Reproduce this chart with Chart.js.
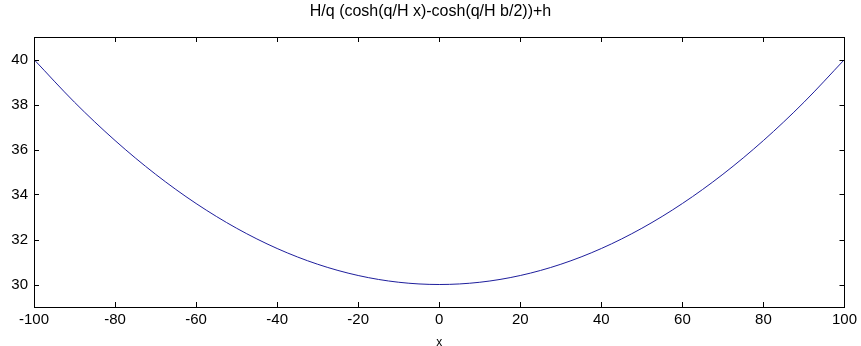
<!DOCTYPE html>
<html>
<head>
<meta charset="utf-8">
<script src="https://cdn.jsdelivr.net/npm/chart.js@4"></script>
<style>
  html, body { margin: 0; padding: 0; background: #fff; }
  #catenary { display: block; }
</style>
</head>
<body>
<canvas id="catenary" width="861" height="346"></canvas>
<script>
// values
const xValues = [-100, -90, -80, -70, -60, -50, -40, -30, -20, -10, 0, 10, 20, 30, 40, 50, 60, 70, 80, 90, 100];
const yValues = [40.0, 38.1, 36.4, 34.9, 33.6, 32.5, 31.6, 30.9, 30.4, 30.1, 30.0, 30.1, 30.4, 30.9, 31.6, 32.5, 33.6, 34.9, 36.4, 38.1, 40.0];
const xTicks = [-100, -80, -60, -40, -20, 0, 20, 40, 60, 80, 100];
const yTicks = [30, 32, 34, 36, 38, 40];
const titleText = "H/q (cosh(q/H x)-cosh(q/H b/2))+h";
const xLabel = "x";

const FONT = "'Liberation Sans', Arial, sans-serif";

// box around the axes with inward ticks on all four sides
const boxTicks = {
  id: "boxTicks",
  afterDraw(chart) {
    const { ctx, chartArea: a, scales } = chart;
    const len = 5;
    ctx.save();
    ctx.strokeStyle = "#000";
    ctx.lineWidth = 1;
    ctx.strokeRect(Math.round(a.left) + 0.5, Math.round(a.top) + 0.5,
      Math.round(a.right - a.left), Math.round(a.bottom - a.top));
    ctx.beginPath();
    xTicks.forEach((v) => {
      const px = Math.round(scales.x.getPixelForValue(v)) + 0.5;
      ctx.moveTo(px, a.bottom); ctx.lineTo(px, a.bottom - len);
      ctx.moveTo(px, a.top); ctx.lineTo(px, a.top + len);
    });
    yTicks.forEach((v) => {
      const py = Math.round(scales.y.getPixelForValue(v)) + 0.5;
      ctx.moveTo(a.left, py); ctx.lineTo(a.left + len, py);
      ctx.moveTo(a.right, py); ctx.lineTo(a.right - len, py);
    });
    ctx.stroke();
    ctx.restore();
  }
};

const ctx = document.getElementById("catenary").getContext("2d");

new Chart(ctx, {
  type: "line",
  data: {
    datasets: [{
      data: xValues.map((x, i) => ({ x: x, y: yValues[i] })),
      borderColor: "#1e1e9c",
      borderWidth: 1,
      pointRadius: 0,
      fill: false,
      cubicInterpolationMode: "monotone"
    }]
  },
  options: {
    responsive: false,
    animation: false,
    layout: { padding: { left: 0, right: 0, top: 0, bottom: 0 } },
    plugins: {
      legend: { display: false },
      tooltip: { enabled: false },
      title: {
        display: true,
        text: titleText,
        color: "#000",
        font: { family: FONT, size: 16, weight: "normal" },
        padding: { top: 2.4, bottom: 15.4 }
      }
    },
    scales: {
      x: {
        type: "linear",
        min: -100,
        max: 100,
        afterBuildTicks: (s) => { s.ticks = xTicks.map((v) => ({ value: v })); },
        afterFit: (s) => { s.height = 39; },
        grid: { display: false, drawTicks: false },
        border: { display: false },
        ticks: { color: "#000", padding: 4, maxRotation: 0, font: { family: FONT, size: 15 } },
        title: { display: true, text: xLabel, color: "#000", padding: { top: 0, bottom: -4 }, font: { family: FONT, size: 12 } }
      },
      y: {
        min: 29,
        max: 41,
        afterBuildTicks: (s) => { s.ticks = yTicks.map((v) => ({ value: v })); },
        afterFit: (s) => { s.width = 34; },
        grid: { display: false, drawTicks: false },
        border: { display: false },
        ticks: { color: "#000", padding: 6, font: { family: FONT, size: 15 } }
      }
    }
  },
  plugins: [boxTicks]
});
</script>
</body>
</html>
